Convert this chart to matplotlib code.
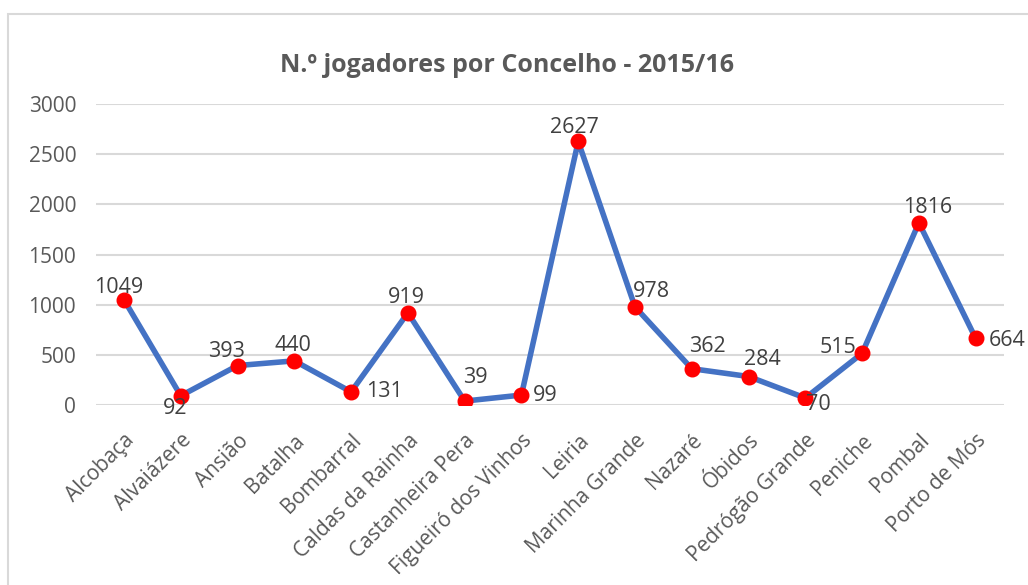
import matplotlib.pyplot as plt
import matplotlib.patches as patches
import matplotlib.transforms as mtransforms

# Data
concelhos = ['Alcobaça', 'Alvaiázere', 'Ansião', 'Batalha', 'Bombarral',
             'Caldas da Rainha', 'Castanheira Pera', 'Figueiró dos Vinhos',
             'Leiria', 'Marinha Grande', 'Nazaré', 'Óbidos', 'Pedrógão Grande',
             'Peniche', 'Pombal', 'Porto de Mós']
jogadores = [1049, 92, 393, 440, 131, 919, 39, 99, 2627, 978, 362, 284, 70,
             515, 1816, 664]

# label offsets in points (dx, dy), roughly where Excel put them
offsets = [(-4, 9), (-4, -9), (-8, 10), (-1, 11), (24, 0), (-1, 11), (8, 17),
           (17, 0), (-3, 10), (12, 11), (11, 16), (10, 12), (9.5, -4.5),
           (-17, 4), (6.5, 11), (23, -1.5)]

plt.rcParams['font.family'] = ['Open Sans', 'DejaVu Sans']

fig = plt.figure(figsize=(10.28, 5.85), dpi=100)
ax = fig.add_axes([0.093, 0.3077, 0.8837, 0.5145])

# light grey frame around the chart area
fig.patches.append(patches.Rectangle((8 / 1028, -0.05), 1.1, 1 - 14 / 585 + 0.05,
                                     transform=fig.transFigure, fill=False,
                                     edgecolor='#d9d9d9', linewidth=1.5))

x = list(range(len(concelhos)))
ax.plot(x, jogadores, color='#4472C4', linewidth=4, zorder=3,
        solid_joinstyle='round')
ax.plot(x, jogadores, linestyle='none', marker='o', markersize=10.5,
        color='#FF0000', zorder=4)

for xi, v, (dx, dy) in zip(x, jogadores, offsets):
    ax.annotate(str(v), (xi, v), xytext=(dx, dy), textcoords='offset points',
                ha='center', va='center', fontsize=15.5, color='#404040',
                zorder=5)

ax.set_xlim(-0.5, len(concelhos) - 0.5)
ax.set_ylim(0, 3000)
ax.set_yticks(range(0, 3001, 500))
ax.set_xticks(x)
ax.set_xticklabels(concelhos, rotation=45, ha='right', va='top',
                   rotation_mode='anchor', fontsize=15, color='#595959')
shift = mtransforms.ScaledTranslation(4 / 72, 0, fig.dpi_scale_trans)
for lab in ax.get_xticklabels():
    lab.set_transform(lab.get_transform() + shift)
ax.tick_params(axis='y', labelsize=15, labelcolor='#595959', length=0, pad=14)
ax.tick_params(axis='x', length=0, pad=18)
ax.grid(axis='y', color='#d9d9d9', linewidth=1.5)
ax.set_axisbelow(True)
for s in ax.spines.values():
    s.set_visible(False)

fig.text(0.493, 0.888, 'N.º jogadores por Concelho - 2015/16', ha='center',
         va='center', fontsize=18, fontweight='bold', color='#595959')

fig.savefig('out.png', dpi=100)
